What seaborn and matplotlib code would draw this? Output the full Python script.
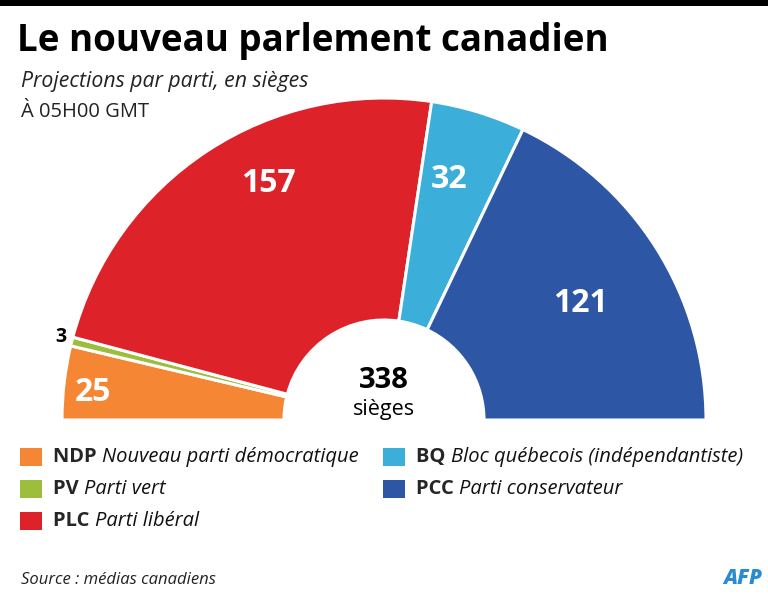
import matplotlib
matplotlib.use("Agg")
import matplotlib.pyplot as plt
import matplotlib.patches as mpatches
import seaborn as sns
import numpy as np

# Data
parties = ["NDP", "PV", "PLC", "BQ", "PCC"]
names = ["Nouveau parti démocratique", "Parti vert", "Parti libéral",
         "Bloc québecois (indépendantiste)", "Parti conservateur"]
seats = [25, 3, 157, 32, 121]
colors = ["#F58634", "#9DBE3C", "#DD2229", "#3BAFDA", "#2D57A5"]

W, H = 768, 602
FONT = "Open Sans"


def Y(py):
    # pixel row (from top) -> data y
    return H - py


def draw_report():
    sns.set_theme(style="white")
    plt.rcParams["font.family"] = [FONT, "DejaVu Sans"]
    palette = sns.color_palette(colors)

    fig = plt.figure(figsize=(W / 100, H / 100), dpi=100)
    ax = fig.add_axes([0, 0, 1, 1])

    total = sum(seats)
    cx, cy, r_out, r_in = 384, Y(420), 322, 100

    wedges, _ = ax.pie(seats + [total], colors=list(palette) + ["white"],
                       startangle=180, counterclock=False,
                       center=(cx, cy), radius=r_out,
                       wedgeprops=dict(width=r_out - r_in, edgecolor="white",
                                       linewidth=2.2))
    wedges[-1].set_visible(False)

    ax.set_xlim(0, W)
    ax.set_ylim(0, H)
    ax.set_aspect("equal")
    ax.set_axis_off()

    # seat labels, at mid angle of each wedge
    cum = np.cumsum([0] + seats)
    label_r = [292, 322, 263, 249, 229]
    label_nudge = [1.2, -0.8, -7.3, 1.8, -1.5]
    for i, n in enumerate(seats):
        theta = np.radians(180 - (cum[i] + n / 2) / total * 180 + label_nudge[i])
        x = cx + label_r[i] * np.cos(theta)
        y = cy + label_r[i] * np.sin(theta)
        if n < 10:
            ax.text(x - 6, y, str(n), ha="right", va="center", fontsize=14,
                    fontweight="bold", color="black")
        else:
            ax.text(x, y, str(n), ha="center", va="center", fontsize=23,
                    fontweight="bold", color="white")

    # centre total
    ax.text(cx, Y(381), str(total), ha="center", va="center", fontsize=21,
            fontweight="bold", color="black")
    ax.text(cx, Y(409), "sièges", ha="center", va="center", fontsize=15.5,
            color="black")

    # titles
    ax.add_patch(mpatches.Rectangle((0, Y(6)), W, 6, color="black", lw=0))
    ax.text(17, Y(41), "Le nouveau parlement canadien", ha="left", va="center",
            fontsize=26.5, fontweight="bold", color="black")
    ax.text(21, Y(81), "Projections par parti, en sièges", ha="left",
            va="center", fontsize=15.3, style="italic", color="#222222")
    ax.text(21, Y(112), "À 05H00 GMT", ha="left", va="center", fontsize=14.5,
            color="#222222")

    # legend, two columns
    cols = [(20, [0, 1, 2]), (383, [3, 4])]
    for x0, idx in cols:
        for row, i in enumerate(idx):
            yc = 457 + row * 32
            ax.add_patch(mpatches.Rectangle((x0, Y(yc + 9)), 22, 18,
                                            color=palette[i], lw=0))
            t = ax.text(x0 + 33, Y(yc), parties[i] + " ", ha="left",
                        va="center", fontsize=14.5, fontweight="bold")
            fig.canvas.draw()
            bb = t.get_window_extent()
            ax.text(bb.x1, Y(yc), names[i], ha="left", va="center",
                    fontsize=14.5, style="italic", color="#111111")

    # footer
    ax.text(21, Y(580), "Source : médias canadiens", ha="left", va="center",
            fontsize=12, style="italic", color="#222222")
    ax.text(762, Y(578), "AFP", ha="right", va="center", fontsize=15,
            fontweight="heavy", style="italic", color="#2B8BD0")

    fig.savefig("out.png", dpi=100)


if __name__ == "__main__":
    draw_report()
